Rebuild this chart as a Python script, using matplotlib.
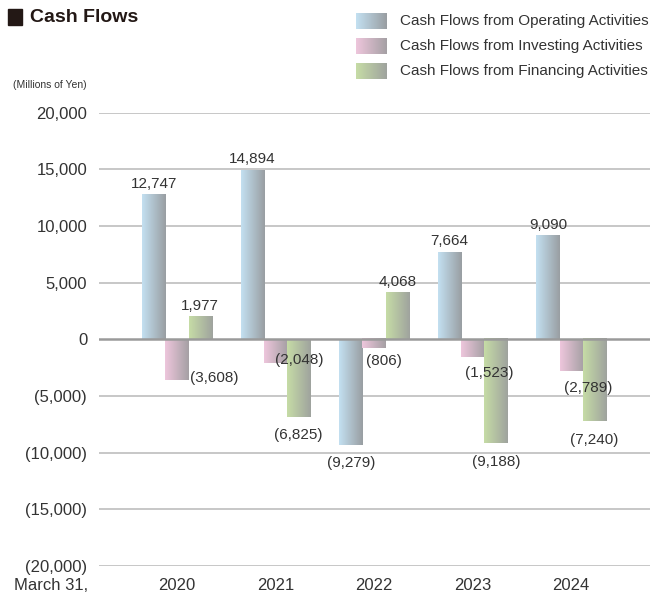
import numpy as np
import matplotlib
import matplotlib.pyplot as plt
from matplotlib.patches import Rectangle

matplotlib.use('Agg')

years = ['2020', '2021', '2022', '2023', '2024']
operating = [12747, 14894, -9279, 7664, 9090]
investing = [-3608, -2048, -806, -1523, -2789]
financing = [1977, -6825, 4068, -9188, -7240]
series_names = ['Cash Flows from Operating Activities',
                'Cash Flows from Investing Activities',
                'Cash Flows from Financing Activities']
y_ticks = [20000, 15000, 10000, 5000, 0, -5000, -10000, -15000, -20000]

# left colour -> right colour of each bar gradient
gradients = [('#c3e0f1', '#999ea2'),
             ('#eec6dc', '#a5a0a4'),
             ('#c6dca6', '#9fa39e')]
# where the investing labels sit, in points from the bar end
inv_offsets = [(27, 1.5), (17, 1.5), (7, -9), (12, -12), (12, -12)]

TEXT = '#333333'
plt.rcParams['font.family'] = ['Liberation Sans', 'DejaVu Sans']


def gradient_img(c0, c1, n=64):
    a = np.array(matplotlib.colors.to_rgb(c0))
    b = np.array(matplotlib.colors.to_rgb(c1))
    t = np.linspace(0, 1, n)[:, None]
    return (a + (b - a) * t)[None, :, :]


def fmt(v):
    return f'({abs(v):,})' if v < 0 else f'{v:,}'


def main() -> None:
    fig = plt.figure(figsize=(6.52, 5.97), dpi=100)
    ax = fig.add_axes([99 / 652, 1 - 566 / 597, 551 / 652, (566 - 112.7) / 597])

    width = 0.236
    x = np.arange(len(years))
    all_series = [operating, investing, financing]
    for i, vals in enumerate(all_series):
        img = gradient_img(*gradients[i])
        for j, v in enumerate(vals):
            x0 = x[j] + (i - 1) * width - width / 2
            lo, hi = min(0, v), max(0, v)
            ax.imshow(img, extent=[x0, x0 + width, lo, hi], aspect='auto',
                      interpolation='bilinear', zorder=3)

    # value labels
    for j in range(len(years)):
        for i, vals in enumerate(all_series):
            v = vals[j]
            cx = x[j] + (i - 1) * width
            if i == 1:
                dx, dy = inv_offsets[j]
                ax.annotate(fmt(v), (cx, v), xytext=(dx, dy), textcoords='offset points',
                            ha='center', va='center', fontsize=11, color=TEXT, zorder=5)
            elif v >= 0:
                ax.annotate(fmt(v), (cx, v), xytext=(0, 3), textcoords='offset points',
                            ha='center', va='bottom', fontsize=11, color=TEXT, zorder=5)
            else:
                ax.annotate(fmt(v), (cx, v), xytext=(0, -8), textcoords='offset points',
                            ha='center', va='top', fontsize=11, color=TEXT, zorder=5)

    ax.set_xlim(-0.79, 4.80)
    ax.set_ylim(-20000, 20000)
    ax.set_yticks(y_ticks)
    ax.set_yticklabels([fmt(t) for t in y_ticks], fontsize=12, color=TEXT)
    ax.set_xticks(x)
    ax.set_xticklabels(years, fontsize=12, color=TEXT)
    ax.tick_params(length=0, pad=9)
    ax.tick_params(axis='y', pad=8.5)
    for s in ax.spines.values():
        s.set_visible(False)
    for t in y_ticks:
        if t == 0:
            ax.axhline(t, color='#9a9a9a', lw=1.8, zorder=4)
        else:
            ax.axhline(t, color='#b8b8b8', lw=1.1, zorder=1)

    fig.text(88 / 652, 1 - 586 / 597, 'March 31,', ha='right', va='center',
             fontsize=12, color=TEXT)
    fig.text(13 / 652, 1 - 85 / 597, '(Millions of Yen)', ha='left', va='center',
             fontsize=7.5, color=TEXT, family=['Liberation Sans Narrow', 'Liberation Sans'])

    # title
    fig.patches.append(Rectangle((8 / 652, 1 - 25 / 597), 14 / 652, 16 / 597,
                                 transform=fig.transFigure, color='#231815'))
    fig.text(30 / 652, 1 - 17 / 597, 'Cash Flows', ha='left', va='center',
             fontsize=14, fontweight='bold', color='#231815')

    # legend
    for i, name in enumerate(series_names):
        top = 13 + 25 * i
        lax = fig.add_axes([356 / 652, 1 - (top + 16) / 597, 31 / 652, 16 / 597])
        lax.imshow(gradient_img(*gradients[i]), aspect='auto', interpolation='bilinear')
        lax.axis('off')
        fig.text(400 / 652, 1 - (top + 8) / 597, name, ha='left', va='center',
                 fontsize=11, color=TEXT)

    fig.savefig('out.png', dpi=100)


if __name__ == '__main__':
    main()
